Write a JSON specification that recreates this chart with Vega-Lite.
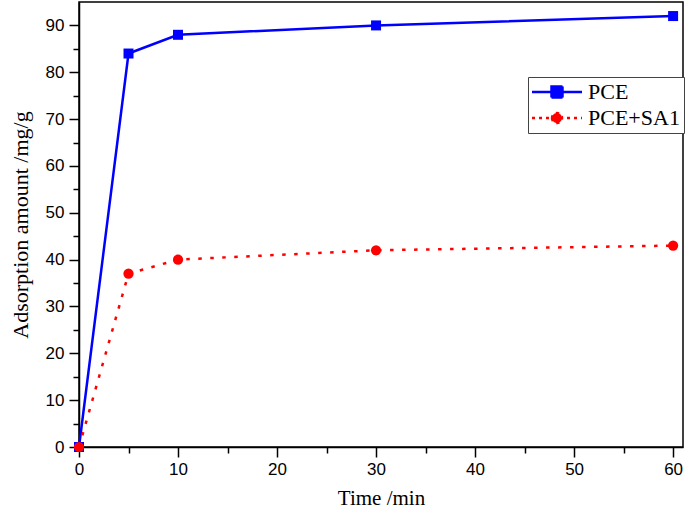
{
  "$schema": "https://vega.github.io/schema/vega-lite/v6.json",
  "width": 604,
  "height": 445,
  "autosize": "none",
  "padding": {"left": 79, "top": 2, "right": 2, "bottom": 65},
  "background": "white",
  "data": {
    "values": [
      {"t": 0, "v": 0, "s": "PCE"},
      {"t": 5, "v": 84, "s": "PCE"},
      {"t": 10, "v": 88, "s": "PCE"},
      {"t": 30, "v": 90, "s": "PCE"},
      {"t": 60, "v": 92, "s": "PCE"},
      {"t": 0, "v": 0, "s": "PCE+SA1"},
      {"t": 5, "v": 37, "s": "PCE+SA1"},
      {"t": 10, "v": 40, "s": "PCE+SA1"},
      {"t": 30, "v": 42, "s": "PCE+SA1"},
      {"t": 60, "v": 43, "s": "PCE+SA1"}
    ]
  },
  "resolve": {"axis": {"x": "independent", "y": "independent"}},
  "layer": [
    {
      "transform": [{"filter": "datum.s === 'PCE'"}],
      "mark": {"type": "line", "strokeWidth": 2.5},
      "encoding": {
        "x": {
          "field": "t", "type": "quantitative",
          "scale": {"domain": [0, 61], "nice": false, "zero": false},
          "axis": {
            "orient": "bottom",
            "values": [0, 10, 20, 30, 40, 50, 60],
            "title": "Time /min",
            "labelFlush": false,
            "tickSize": 10, "tickWidth": 1.5, "tickColor": "black",
            "domainColor": "black", "domainWidth": 1.5,
            "labelFont": "Liberation Sans", "labelFontSize": 17, "labelColor": "black", "labelPadding": 4,
            "titleFont": "Liberation Serif", "titleFontSize": 21, "titleFontWeight": "normal", "titleColor": "black", "titlePadding": 10,
            "grid": false
          }
        },
        "y": {
          "field": "v", "type": "quantitative",
          "scale": {"domain": [0, 95], "nice": false, "zero": false},
          "axis": {
            "orient": "left",
            "values": [0, 10, 20, 30, 40, 50, 60, 70, 80, 90],
            "title": "Adsorption amount /mg/g",
            "labelFlush": false,
            "tickSize": 10, "tickWidth": 1.5, "tickColor": "black",
            "domainColor": "black", "domainWidth": 1.5,
            "labelFont": "Liberation Sans", "labelFontSize": 17, "labelColor": "black", "labelPadding": 5,
            "titleFont": "Liberation Serif", "titleFontSize": 22, "titleFontWeight": "normal", "titleColor": "black", "titlePadding": 13,
            "grid": false
          }
        },
        "color": {
          "field": "s", "type": "nominal",
          "scale": {"domain": ["PCE", "PCE+SA1"], "range": ["#0000ff", "#ff0000"]},
          "legend": {
            "title": null,
            "orient": "none",
            "legendX": 449,
            "legendY": 75,
            "symbolSize": 100,
            "symbolStrokeWidth": 2.5,
            "labelFont": "Liberation Serif",
            "labelFontSize": 22,
            "labelColor": "black",
            "labelOffset": 34,
            "rowPadding": 4,
            "padding": 4,
            "strokeColor": "#444444",
            "fillColor": "white",
            "encode": {
              "symbols": {
                "update": {
                  "shape": {"signal": "datum.value === 'PCE' ? 'M-2.2,0H7.8M1.7,-1.1H3.9V1.1H1.7Z' : 'M-2.2,0H7.8M1.8,0A1,1 0 1,0 3.8,0A1,1 0 1,0 1.8,0Z'"},
                  "strokeDash": {"signal": "datum.value === 'PCE' ? [1,0] : [3,4]"},
                  "fill": {"signal": "datum.value === 'PCE' ? '#0000ff' : '#ff0000'"},
                  "stroke": {"signal": "datum.value === 'PCE' ? '#0000ff' : '#ff0000'"},
                  "opacity": {"value": 1},
                  "fillOpacity": {"value": 1},
                  "strokeOpacity": {"value": 1}
                }
              }
            }
          }
        }
      }
    },
    {
      "transform": [{"filter": "datum.s === 'PCE+SA1'"}],
      "mark": {"type": "line", "strokeWidth": 2.5, "strokeDash": [3.5, 8.5]},
      "encoding": {
        "x": {"field": "t", "type": "quantitative", "axis": null},
        "y": {"field": "v", "type": "quantitative", "axis": null},
        "color": {"field": "s", "type": "nominal"}
      }
    },
    {
      "transform": [{"filter": "datum.s === 'PCE'"}],
      "mark": {"type": "point", "filled": true, "opacity": 1, "shape": "square", "size": 100, "color": "#0000ff"},
      "encoding": {
        "x": {"field": "t", "type": "quantitative", "axis": null},
        "y": {"field": "v", "type": "quantitative", "axis": null}
      }
    },
    {
      "transform": [{"filter": "datum.s === 'PCE+SA1'"}],
      "mark": {"type": "point", "filled": true, "opacity": 1, "shape": "circle", "size": 105, "color": "#ff0000"},
      "encoding": {
        "x": {"field": "t", "type": "quantitative", "axis": null},
        "y": {"field": "v", "type": "quantitative", "axis": null}
      }
    },
    {
      "mark": {"type": "point", "opacity": 0},
      "encoding": {
        "x": {
          "field": "t", "type": "quantitative",
          "axis": {
            "orient": "bottom",
            "values": [5, 15, 25, 35, 45, 55],
            "title": null, "labels": false, "domain": false, "grid": false,
            "tickSize": 6, "tickWidth": 1.5, "tickColor": "black"
          }
        },
        "y": {
          "field": "v", "type": "quantitative",
          "axis": {
            "orient": "left",
            "values": [5, 15, 25, 35, 45, 55, 65, 75, 85],
            "title": null, "labels": false, "domain": false, "grid": false,
            "tickSize": 6, "tickWidth": 1.5, "tickColor": "black"
          }
        }
      }
    }
  ],
  "config": {
    "view": {"stroke": "black", "strokeWidth": 1.5}
  }
}
